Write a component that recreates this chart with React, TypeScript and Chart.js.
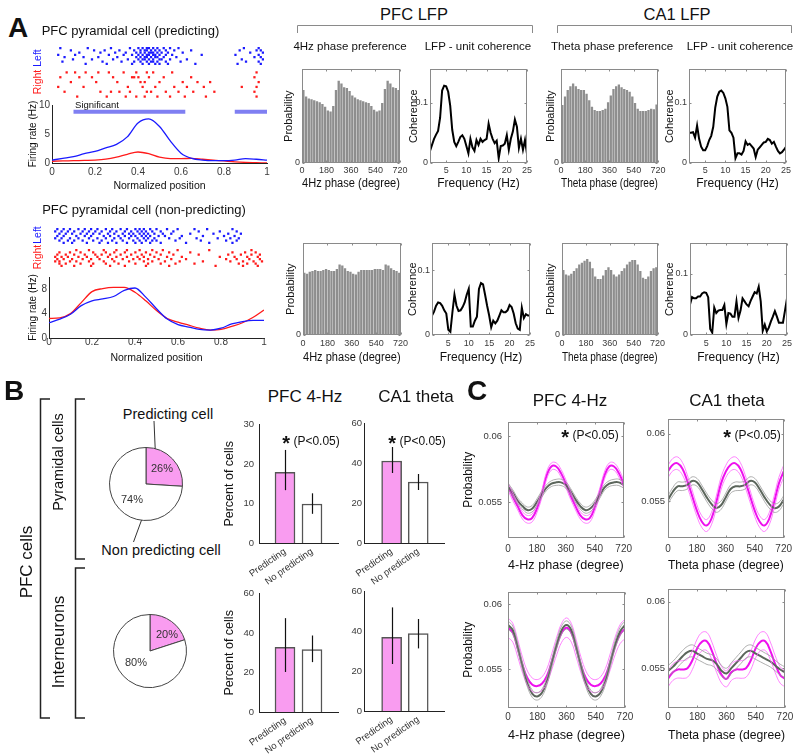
import React, { useEffect, useRef } from 'react';
import { Chart, registerables } from 'chart.js';

Chart.register(...registerables);

const FONT = '"Liberation Sans", Arial, Helvetica, sans-serif';
const TICK = '#3a3a3a';
const PINK = '#f99cf0';
const MAGENTA = '#ee11ee';
const MAGENTA_THIN = '#ff66ff';
const GREY = '#5c665c';
const GREY_THIN = '#9a9a9a';
const HIST = '#8e8e8e';
const BLUE = '#1a1aff';
const RED = '#ff1a1a';
const SIG = '#7f7ff2';

// ---------------- Panel A : firing rate ----------------
const positions = [0, 0.05, 0.1, 0.15, 0.2, 0.25, 0.3, 0.35, 0.4, 0.45, 0.5, 0.55, 0.6, 0.65, 0.7, 0.75, 0.8, 0.85, 0.9, 0.95, 1];
const posTicks = [0, 0.2, 0.4, 0.6, 0.8, 1];
const predLeftRate = [0.5, 0.8, 1.1, 1.6, 2.0, 2.6, 3.2, 4.5, 6.9, 7.6, 6.3, 3.8, 1.7, 0.8, 0.5, 0.4, 0.4, 0.5, 0.75, 0.65, 0.5];
const predRightRate = [0.3, 0.35, 0.4, 0.45, 0.5, 0.65, 1.0, 1.5, 1.9, 1.6, 1.0, 0.75, 0.75, 0.8, 0.65, 0.5, 0.35, 0.2, 0.1, 0.05, 0.0];
const nonpredLeftRate = [2.5, 3.1, 3.9, 5.3, 6.1, 6.4, 6.8, 7.8, 8.2, 6.7, 4.8, 3.1, 2.2, 1.8, 1.4, 1.3, 1.6, 2.3, 2.7, 2.9, 2.9];
const nonpredRightRate = [3.2, 3.3, 4.0, 5.8, 7.6, 8.1, 8.3, 8.3, 7.5, 6.1, 4.5, 3.2, 2.6, 2.1, 1.6, 1.3, 1.4, 1.9, 2.5, 3.4, 4.6];
const rateTicksPred = [0, 5, 10];
const rateTicksNon = [0, 4, 8];
const sigStart = [0.1, 0.85];
const sigEnd = [0.62, 1.0];
const SIG_LEVEL = 8.85;

// spike rasters (normalized positions per trial)
const predLeftTrials = [
  [0.03, 0.16, 0.27, 0.36, 0.40, 0.42, 0.44, 0.45, 0.47, 0.49, 0.52, 0.55, 0.59, 0.90, 0.97],
  [0.08, 0.19, 0.24, 0.31, 0.38, 0.41, 0.43, 0.44, 0.46, 0.48, 0.50, 0.53, 0.57, 0.65, 0.88, 0.96, 0.98],
  [0.12, 0.22, 0.29, 0.34, 0.39, 0.41, 0.43, 0.45, 0.46, 0.47, 0.49, 0.51, 0.54, 0.61, 0.93, 0.99],
  [0.02, 0.10, 0.26, 0.33, 0.37, 0.40, 0.42, 0.44, 0.45, 0.47, 0.48, 0.50, 0.53, 0.56, 0.70, 0.86, 0.97],
  [0.05, 0.14, 0.21, 0.30, 0.39, 0.41, 0.43, 0.44, 0.46, 0.48, 0.49, 0.52, 0.58, 0.95, 0.98],
  [0.09, 0.18, 0.28, 0.35, 0.40, 0.42, 0.43, 0.45, 0.47, 0.50, 0.51, 0.55, 0.63, 0.89, 0.99],
  [0.04, 0.23, 0.32, 0.38, 0.41, 0.44, 0.46, 0.47, 0.49, 0.53, 0.60, 0.91, 0.97],
  [0.15, 0.25, 0.37, 0.42, 0.45, 0.48, 0.50, 0.54, 0.67, 0.87, 0.98],
];
const predRightTrials = [
  [0.06, 0.10, 0.15, 0.21, 0.26, 0.33, 0.39, 0.44, 0.47, 0.56, 0.96],
  [0.03, 0.12, 0.18, 0.28, 0.37, 0.38, 0.40, 0.45, 0.52, 0.65, 0.95],
  [0.08, 0.20, 0.30, 0.41, 0.43, 0.50, 0.61, 0.68, 0.74, 0.97],
  [0.02, 0.14, 0.35, 0.42, 0.48, 0.57, 0.63, 0.71, 0.89, 0.96],
  [0.05, 0.22, 0.27, 0.31, 0.36, 0.44, 0.46, 0.53, 0.59, 0.66, 0.76, 0.95],
  [0.11, 0.25, 0.34, 0.39, 0.43, 0.49, 0.55, 0.62, 0.72, 0.96],
];
const nonLeftTrials = [
  [0.03, 0.06, 0.09, 0.13, 0.16, 0.19, 0.22, 0.26, 0.29, 0.33, 0.36, 0.40, 0.42, 0.44, 0.47, 0.50, 0.55, 0.60, 0.68, 0.74, 0.86],
  [0.02, 0.05, 0.08, 0.11, 0.15, 0.18, 0.21, 0.24, 0.28, 0.31, 0.35, 0.38, 0.41, 0.43, 0.45, 0.48, 0.52, 0.58, 0.70, 0.80, 0.88],
  [0.04, 0.07, 0.10, 0.14, 0.17, 0.20, 0.23, 0.27, 0.30, 0.34, 0.37, 0.39, 0.42, 0.44, 0.46, 0.49, 0.53, 0.57, 0.66, 0.77, 0.84, 0.90],
  [0.03, 0.06, 0.12, 0.16, 0.19, 0.25, 0.28, 0.32, 0.35, 0.38, 0.40, 0.43, 0.45, 0.47, 0.51, 0.54, 0.62, 0.72, 0.82, 0.87],
  [0.02, 0.05, 0.09, 0.13, 0.18, 0.22, 0.26, 0.30, 0.33, 0.37, 0.41, 0.44, 0.46, 0.49, 0.56, 0.61, 0.69, 0.79, 0.85, 0.89],
  [0.04, 0.08, 0.11, 0.15, 0.20, 0.24, 0.29, 0.34, 0.39, 0.42, 0.45, 0.48, 0.50, 0.59, 0.71, 0.83, 0.88],
  [0.06, 0.10, 0.17, 0.23, 0.27, 0.31, 0.36, 0.40, 0.43, 0.47, 0.52, 0.64, 0.75, 0.86],
];
const nonRightTrials = [
  [0.12, 0.18, 0.25, 0.31, 0.36, 0.42, 0.48, 0.53, 0.60, 0.75, 0.95],
  [0.04, 0.09, 0.14, 0.20, 0.26, 0.30, 0.35, 0.40, 0.45, 0.50, 0.56, 0.66, 0.86, 0.92, 0.97],
  [0.03, 0.07, 0.11, 0.16, 0.21, 0.24, 0.28, 0.33, 0.38, 0.43, 0.47, 0.52, 0.58, 0.70, 0.84, 0.90, 0.95, 0.99],
  [0.02, 0.05, 0.08, 0.13, 0.17, 0.22, 0.27, 0.31, 0.36, 0.41, 0.44, 0.49, 0.55, 0.62, 0.80, 0.87, 0.93, 0.98],
  [0.03, 0.06, 0.10, 0.15, 0.19, 0.23, 0.29, 0.34, 0.39, 0.42, 0.46, 0.51, 0.57, 0.64, 0.83, 0.88, 0.94, 0.99],
  [0.02, 0.04, 0.09, 0.12, 0.18, 0.25, 0.30, 0.37, 0.44, 0.48, 0.54, 0.61, 0.72, 0.85, 0.91, 0.96, 1.0],
  [0.04, 0.07, 0.14, 0.20, 0.26, 0.32, 0.40, 0.46, 0.52, 0.59, 0.68, 0.89, 0.93, 0.97],
  [0.05, 0.11, 0.19, 0.28, 0.35, 0.45, 0.56, 0.78, 0.91, 0.98],
];

// ---------------- Panel A : phase histograms (36 bins of 20 deg, 0-720) ----------------
const phaseTicks = [0, 180, 360, 540, 720];
const pfcPhasePred = [0.78, 0.71, 0.69, 0.68, 0.67, 0.66, 0.65, 0.63, 0.60, 0.56, 0.55, 0.61, 0.78, 0.88, 0.85, 0.81, 0.80, 0.77, 0.72, 0.70, 0.68, 0.67, 0.66, 0.65, 0.64, 0.61, 0.57, 0.55, 0.56, 0.64, 0.79, 0.88, 0.85, 0.81, 0.80, 0.78];
const ca1PhasePred = [0.62, 0.71, 0.78, 0.82, 0.85, 0.82, 0.79, 0.78, 0.78, 0.74, 0.67, 0.60, 0.565, 0.555, 0.555, 0.565, 0.58, 0.65, 0.72, 0.79, 0.82, 0.84, 0.81, 0.79, 0.78, 0.76, 0.71, 0.64, 0.58, 0.555, 0.555, 0.555, 0.565, 0.58, 0.575, 0.625];
const pfcPhaseNon = [0.68, 0.67, 0.69, 0.70, 0.71, 0.70, 0.70, 0.71, 0.72, 0.71, 0.70, 0.70, 0.72, 0.77, 0.76, 0.73, 0.70, 0.69, 0.67, 0.66, 0.69, 0.71, 0.71, 0.71, 0.71, 0.71, 0.72, 0.72, 0.72, 0.71, 0.77, 0.76, 0.73, 0.71, 0.70, 0.68];
const ca1PhaseNon = [0.71, 0.66, 0.65, 0.67, 0.70, 0.73, 0.77, 0.79, 0.81, 0.83, 0.80, 0.73, 0.64, 0.61, 0.61, 0.65, 0.71, 0.74, 0.71, 0.66, 0.64, 0.66, 0.70, 0.73, 0.77, 0.80, 0.82, 0.82, 0.77, 0.70, 0.625, 0.61, 0.64, 0.70, 0.73, 0.74];

// ---------------- Panel A : LFP-unit coherence ----------------
const freqs = [1, 1.5, 2, 2.5, 3, 3.5, 4, 4.5, 5, 5.5, 6, 6.5, 7, 7.5, 8, 8.5, 9, 9.5, 10, 10.5, 11, 11.5, 12, 12.5, 13, 13.5, 14, 14.5, 15, 15.5, 16, 16.5, 17, 17.5, 18, 18.5, 19, 19.5, 20, 20.5, 21, 21.5, 22, 22.5, 23, 23.5, 24, 24.5, 25];
const freqTicks = [5, 10, 15, 20, 25];
const cohTicks = [0, 0.1];
const pfcCohPred = [0.020, 0.030, 0.040, 0.047, 0.053, 0.075, 0.120, 0.128, 0.127, 0.118, 0.095, 0.055, 0.035, 0.028, 0.035, 0.043, 0.046, 0.040, 0.028, 0.016, 0.040, 0.026, 0.020, 0.038, 0.030, 0.040, 0.035, 0.038, 0.040, 0.065, 0.050, 0.040, 0.033, 0.037, 0.008, 0.028, 0.029, 0.032, 0.046, 0.022, 0.040, 0.052, 0.072, 0.060, 0.025, 0.040, 0.022, 0.038, 0.015];
const ca1CohPred = [0.050, 0.050, 0.051, 0.042, 0.062, 0.040, 0.027, 0.021, 0.021, 0.028, 0.038, 0.045, 0.060, 0.092, 0.110, 0.118, 0.120, 0.116, 0.107, 0.093, 0.054, 0.050, 0.042, 0.008, 0.016, 0.016, 0.014, 0.020, 0.036, 0.030, 0.032, 0.028, 0.024, 0.010, 0.022, 0.026, 0.030, 0.034, 0.035, 0.040, 0.038, 0.032, 0.035, 0.027, 0.020, 0.016, 0.018, 0.022, 0.027];
const pfcCohNon = [0.030, 0.036, 0.045, 0.050, 0.049, 0.045, 0.038, 0.033, 0.008, 0.005, 0.035, 0.062, 0.045, 0.037, 0.038, 0.043, 0.050, 0.062, 0.071, 0.013, 0.013, 0.022, 0.028, 0.071, 0.080, 0.078, 0.062, 0.045, 0.030, 0.012, 0.022, 0.018, 0.022, 0.030, 0.038, 0.035, 0.035, 0.038, 0.046, 0.043, 0.033, 0.018, 0.010, 0.008, 0.042, 0.026, 0.032, 0.030, 0.030];
const ca1CohNon = [0.050, 0.062, 0.060, 0.060, 0.063, 0.063, 0.068, 0.070, 0.069, 0.062, 0.010, 0.004, 0.045, 0.036, 0.040, 0.041, 0.041, 0.049, 0.018, 0.036, 0.035, 0.030, 0.030, 0.055, 0.028, 0.040, 0.060, 0.055, 0.050, 0.047, 0.056, 0.063, 0.070, 0.068, 0.079, 0.055, 0.007, 0.017, 0.006, 0.012, 0.022, 0.030, 0.039, 0.030, 0.020, 0.020, 0.020, 0.040, 0.060];

// ---------------- Panel B ----------------
const pieLabels = ['Predicting cell', 'Non predicting cell'];
const pyrPie = [26, 74];
const intPie = [20, 80];
const barLabels = ['Predicting', 'No predicting'];
const pfcPyrMean = [17.9, 9.9];
const pfcPyrLo = [13.4, 7.4];
const pfcPyrHi = [23.6, 12.6];
const ca1PyrMean = [41.0, 30.5];
const ca1PyrLo = [35.0, 26.5];
const ca1PyrHi = [48.0, 34.5];
const pfcIntMean = [32.8, 31.6];
const pfcIntLo = [20.3, 25.3];
const pfcIntHi = [47.6, 38.8];
const ca1IntMean = [36.8, 38.7];
const ca1IntLo = [23.5, 31.3];
const ca1IntHi = [51.8, 46.0];

// ---------------- Panel C ----------------
const phases = [0, 30, 60, 90, 120, 150, 180, 210, 240, 270, 300, 330, 360, 390, 420, 450, 480, 510, 540, 570, 600, 630, 660, 690, 720];
const pfcPyrPred = [0.0562, 0.0554, 0.0547, 0.0540, 0.0537, 0.0538, 0.0545, 0.0556, 0.0570, 0.0577, 0.0577, 0.0572, 0.0564, 0.0555, 0.0547, 0.0540, 0.0537, 0.0538, 0.0546, 0.0557, 0.0570, 0.0577, 0.0577, 0.0572, 0.0564];
const pfcPyrPredSem = [0.00030, 0.00029, 0.00028, 0.00028, 0.00029, 0.00030, 0.00030, 0.00029, 0.00028, 0.00027, 0.00028, 0.00029, 0.00030, 0.00029, 0.00028, 0.00028, 0.00029, 0.00030, 0.00030, 0.00029, 0.00028, 0.00027, 0.00028, 0.00029, 0.00030];
const pfcPyrNon = [0.0562, 0.0557, 0.0551, 0.0547, 0.0544, 0.0545, 0.0550, 0.0556, 0.0561, 0.0564, 0.0565, 0.0565, 0.0563, 0.0558, 0.0552, 0.0547, 0.0544, 0.0545, 0.0549, 0.0555, 0.0561, 0.0564, 0.0565, 0.0565, 0.0563];
const pfcPyrNonSem = [0.00024, 0.00023, 0.00022, 0.00022, 0.00023, 0.00024, 0.00024, 0.00023, 0.00022, 0.00022, 0.00023, 0.00024, 0.00024, 0.00023, 0.00022, 0.00022, 0.00023, 0.00024, 0.00024, 0.00023, 0.00022, 0.00022, 0.00023, 0.00024, 0.00024];
const ca1PyrPred = [0.0572, 0.0577, 0.0578, 0.0574, 0.0565, 0.0554, 0.0543, 0.0535, 0.0532, 0.0537, 0.0549, 0.0563, 0.0572, 0.0577, 0.0578, 0.0574, 0.0565, 0.0554, 0.0543, 0.0535, 0.0532, 0.0537, 0.0549, 0.0563, 0.0572];
const ca1PyrPredSem = [0.00045, 0.00046, 0.00047, 0.00046, 0.00045, 0.00044, 0.00043, 0.00043, 0.00044, 0.00045, 0.00046, 0.00046, 0.00045, 0.00046, 0.00047, 0.00046, 0.00045, 0.00044, 0.00043, 0.00043, 0.00044, 0.00045, 0.00046, 0.00046, 0.00045];
const ca1PyrNon = [0.0551, 0.0557, 0.0561, 0.0561, 0.0562, 0.0565, 0.0564, 0.0559, 0.0553, 0.0548, 0.0545, 0.0547, 0.0553, 0.0559, 0.0561, 0.0561, 0.0562, 0.0565, 0.0564, 0.0559, 0.0553, 0.0548, 0.0545, 0.0546, 0.0551];
const ca1PyrNonSem = [0.00030, 0.00031, 0.00032, 0.00031, 0.00030, 0.00030, 0.00029, 0.00029, 0.00030, 0.00031, 0.00032, 0.00031, 0.00030, 0.00031, 0.00032, 0.00031, 0.00030, 0.00030, 0.00029, 0.00029, 0.00030, 0.00031, 0.00032, 0.00031, 0.00030];
const pfcIntPred = [0.0582, 0.0578, 0.0566, 0.0553, 0.0543, 0.0538, 0.0537, 0.0539, 0.0545, 0.0556, 0.0568, 0.0578, 0.0582, 0.0578, 0.0566, 0.0553, 0.0543, 0.0538, 0.0537, 0.0539, 0.0545, 0.0556, 0.0568, 0.0577, 0.0581];
const pfcIntPredSem = [0.00075, 0.00072, 0.00066, 0.00060, 0.00055, 0.00052, 0.00050, 0.00052, 0.00056, 0.00062, 0.00068, 0.00073, 0.00075, 0.00072, 0.00066, 0.00060, 0.00055, 0.00052, 0.00050, 0.00052, 0.00056, 0.00062, 0.00068, 0.00073, 0.00075];
const pfcIntNon = [0.0584, 0.0580, 0.0567, 0.0552, 0.0539, 0.0531, 0.0529, 0.0532, 0.0541, 0.0555, 0.0569, 0.0580, 0.0584, 0.0580, 0.0567, 0.0552, 0.0539, 0.0531, 0.0529, 0.0532, 0.0541, 0.0555, 0.0569, 0.0579, 0.0584];
const pfcIntNonSem = [0.00032, 0.00031, 0.00030, 0.00029, 0.00028, 0.00028, 0.00028, 0.00028, 0.00029, 0.00030, 0.00031, 0.00032, 0.00032, 0.00031, 0.00030, 0.00029, 0.00028, 0.00028, 0.00028, 0.00028, 0.00029, 0.00030, 0.00031, 0.00032, 0.00032];
const ca1IntPred = [0.0542, 0.0547, 0.0549, 0.0549, 0.0550, 0.0556, 0.0565, 0.0570, 0.0570, 0.0563, 0.0553, 0.0545, 0.0542, 0.0547, 0.0549, 0.0549, 0.0550, 0.0556, 0.0565, 0.0570, 0.0570, 0.0563, 0.0553, 0.0545, 0.0542];
const ca1IntPredSem = [0.00060, 0.00062, 0.00064, 0.00066, 0.00068, 0.00070, 0.00070, 0.00069, 0.00068, 0.00066, 0.00064, 0.00062, 0.00060, 0.00062, 0.00064, 0.00066, 0.00068, 0.00070, 0.00070, 0.00069, 0.00068, 0.00066, 0.00064, 0.00062, 0.00060];
const ca1IntNon = [0.0548, 0.0551, 0.0555, 0.0559, 0.0562, 0.0563, 0.0561, 0.0559, 0.0557, 0.0556, 0.0553, 0.0548, 0.0546, 0.0550, 0.0554, 0.0558, 0.0562, 0.0563, 0.0561, 0.0559, 0.0557, 0.0555, 0.0552, 0.0549, 0.0547];
const ca1IntNonSem = [0.00040, 0.00041, 0.00042, 0.00043, 0.00044, 0.00045, 0.00044, 0.00043, 0.00042, 0.00041, 0.00040, 0.00040, 0.00040, 0.00041, 0.00042, 0.00043, 0.00044, 0.00045, 0.00044, 0.00043, 0.00042, 0.00041, 0.00040, 0.00040, 0.00040];
const probTicks = [0.055, 0.06];

// ---------------- plugins ----------------
const framePlugin = {
  id: 'frame',
  afterDatasetsDraw(chart: any, _a: any, opts: any) {
    if (!opts || !opts.color) return;
    const { ctx, chartArea: a } = chart;
    const L = Math.round(a.left) + 0.5, T = Math.round(a.top) + 0.5;
    const R = Math.round(a.right) - 0.5, B = Math.round(a.bottom) - 0.5;
    ctx.save();
    ctx.strokeStyle = opts.color;
    ctx.lineWidth = 1;
    ctx.strokeRect(L, T, R - L, B - T);
    const len = opts.len || 0;
    if (len) {
      const xs = chart.scales[opts.xId || 'x'];
      const ys = chart.scales['y'];
      ctx.beginPath();
      (xs.ticks || []).forEach((t: any) => {
        const px = Math.round(xs.getPixelForValue(t.value)) + 0.5;
        ctx.moveTo(px, B); ctx.lineTo(px, B - len);
        ctx.moveTo(px, T); ctx.lineTo(px, T + len);
      });
      (ys.ticks || []).forEach((t: any) => {
        const py = Math.round(ys.getPixelForValue(t.value)) + 0.5;
        ctx.moveTo(L, py); ctx.lineTo(L + len, py);
        ctx.moveTo(R, py); ctx.lineTo(R - len, py);
      });
      ctx.stroke();
    }
    ctx.restore();
  },
};
const errPlugin = {
  id: 'errbars',
  afterDatasetsDraw(chart: any) {
    const ds: any = chart.data.datasets[0];
    if (!ds || !ds.errLo) return;
    const meta = chart.getDatasetMeta(0);
    const ys = chart.scales.y;
    const ctx = chart.ctx;
    ctx.save();
    ctx.strokeStyle = '#111';
    ctx.lineWidth = 1.2;
    meta.data.forEach((el: any, i: number) => {
      const x = Math.round(el.x) + 0.5;
      ctx.beginPath();
      ctx.moveTo(x, ys.getPixelForValue(ds.errLo[i]));
      ctx.lineTo(x, ys.getPixelForValue(ds.errHi[i]));
      ctx.stroke();
    });
    ctx.restore();
  },
};
Chart.register(framePlugin as any, errPlugin as any);

// ---------------- helpers ----------------
type G = { x: number; y: number; w: number; h: number; l: number; t: number; r: number; b: number };

function Plot({ g, cfg }: { g: G; cfg: () => any }) {
  const ref = useRef<HTMLCanvasElement | null>(null);
  useEffect(() => {
    const c = new Chart(ref.current as HTMLCanvasElement, cfg());
    return () => c.destroy();
  }, []);
  const W = g.w + g.l + g.r;
  const H = g.h + g.t + g.b;
  return (
    <canvas ref={ref} width={W} height={H}
      style={{ position: 'absolute', left: g.x - g.l, top: g.y - g.t, width: W, height: H, display: 'block' }} />
  );
}

function base(g: G, axX: boolean, axY: boolean, plugins: any = {}) {
  return {
    responsive: false,
    maintainAspectRatio: false,
    animation: false,
    events: [],
    layout: { padding: { left: axY ? 0 : g.l, top: g.t, right: g.r, bottom: axX ? 0 : g.b } },
    plugins: { legend: { display: false }, tooltip: { enabled: false }, ...plugins },
  };
}

function axis(kind: 'x' | 'y', g: G, o: any) {
  const isX = kind === 'x';
  return {
    type: 'linear',
    axis: kind,
    position: isX ? 'bottom' : 'left',
    min: o.min,
    max: o.max,
    offset: false,
    afterBuildTicks: (s: any) => { s.ticks = o.ticks.map((v: number) => ({ value: v })); },
    afterFit: (s: any) => { if (isX) s.height = g.b; else s.width = g.l; },
    grid: { display: false, drawTicks: false, offset: false },
    border: { display: !!o.line, color: o.line || '#000', width: 1 },
    ticks: {
      autoSkip: false,
      maxRotation: o.rot || 0,
      minRotation: o.rot || 0,
      padding: o.pad === undefined ? 3 : o.pad,
      color: o.tickColor || TICK,
      font: { size: o.size || 10, family: FONT },
      callback: (v: number) => (o.fmt ? o.fmt(v) : String(v)),
    },
    title: { display: !!o.title, text: o.title || '', color: '#111', padding: 0, font: { size: o.tsize || 12, family: FONT } },
  };
}

function Txt({ x, y, s, c = '#111', rot = 0, w = 400, children }: any) {
  return (
    <div style={{
      position: 'absolute', left: x, top: y, transform: `translate(-50%, -50%) rotate(${rot}deg)`,
      fontSize: s, color: c, fontWeight: w, fontFamily: FONT, whiteSpace: 'nowrap', lineHeight: 1,
    }}>{children}</div>
  );
}

function Star({ x, y }: { x: number; y: number }) {
  return (
    <Txt x={x} y={y} s={12}>
      <span style={{ fontSize: 20, fontWeight: 700, position: 'relative', top: 5 }}>*</span>
      {' (P<0.05)'}
    </Txt>
  );
}

// ---------------- chart configs ----------------
function rasterCfg(g: G, trials: number[][], color: string) {
  return () => ({
    type: 'scatter',
    data: {
      datasets: [{
        data: trials.flatMap((row, i) => row.map((p) => ({ x: p, y: i }))),
        backgroundColor: color, borderWidth: 0, pointStyle: 'rect', pointRadius: 1.6, clip: false,
      }],
    },
    options: {
      ...base(g, false, false),
      scales: {
        x: { type: 'linear', display: false, min: 0, max: 1 },
        y: { type: 'linear', display: false, min: -0.5, max: trials.length - 0.5, reverse: true },
      },
    },
  });
}

function rateCfg(g: G, left: number[], right: number[], yTicks: number[], xPad: number, sig: boolean) {
  return () => {
    const ds: any[] = [
      { data: positions.map((p, i) => ({ x: p, y: left[i] })), borderColor: BLUE, borderWidth: 1.3, pointRadius: 0, cubicInterpolationMode: 'monotone' },
      { data: positions.map((p, i) => ({ x: p, y: right[i] })), borderColor: RED, borderWidth: 1.3, pointRadius: 0, cubicInterpolationMode: 'monotone' },
    ];
    if (sig) {
      sigStart.forEach((s, i) => ds.push({
        data: [{ x: s, y: SIG_LEVEL }, { x: sigEnd[i], y: SIG_LEVEL }],
        borderColor: SIG, borderWidth: 4, pointRadius: 0, borderCapStyle: 'butt',
      }));
    }
    return {
      type: 'line',
      data: { datasets: ds },
      options: {
        ...base(g, true, true),
        scales: {
          x: axis('x', g, { min: 0, max: 1, ticks: posTicks, line: '#222', size: 10, pad: xPad, title: 'Normalized position', tsize: 10.5 }),
          y: axis('y', g, { min: 0, max: 10, ticks: yTicks, line: '#222', size: 10, pad: 2, title: 'Firing rate (Hz)', tsize: 10 }),
        },
      },
    };
  };
}

function histCfg(g: G, values: number[], xTitle: string, pad: number) {
  return () => ({
    type: 'bar',
    data: {
      labels: values.map((_, i) => String(i)),
      datasets: [{ data: values, xAxisID: 'x', backgroundColor: HIST, borderWidth: 0, barPercentage: 0.86, categoryPercentage: 1 }],
    },
    options: {
      ...base(g, true, true, { frame: { color: '#8a8a8a', len: 2, xId: 'x2' } }),
      scales: {
        x: { type: 'category', display: false },
        x2: axis('x', g, { min: 0, max: 720, ticks: phaseTicks, size: 9, pad, title: xTitle, tsize: 12 }),
        y: axis('y', g, { min: 0, max: 1, ticks: [0], size: 9, pad: 2, title: 'Probability', tsize: 11 }),
      },
    },
  });
}

function cohCfg(g: G, values: number[], ymax: number, pad: number) {
  return () => ({
    type: 'line',
    data: {
      datasets: [{ data: freqs.map((f, i) => ({ x: f, y: values[i] })), borderColor: '#000', borderWidth: 2, pointRadius: 0, tension: 0 }],
    },
    options: {
      ...base(g, true, true, { frame: { color: '#8a8a8a', len: 2 } }),
      scales: {
        x: axis('x', g, { min: 1, max: 25, ticks: freqTicks, size: 9, pad, title: 'Frequency (Hz)', tsize: 12 }),
        y: axis('y', g, { min: 0, max: ymax, ticks: cohTicks, size: 9, pad: 2, title: 'Coherence', tsize: 11 }),
      },
    },
  });
}

function pieCfg(g: G, values: number[]) {
  return () => ({
    type: 'pie',
    data: {
      labels: pieLabels,
      datasets: [{ data: values, backgroundColor: [PINK, '#ffffff'], borderColor: '#444', borderWidth: 1, radius: 36.5 }],
    },
    options: base(g, false, false),
  });
}

function barCfg(g: G, mean: number[], lo: number[], hi: number[], xmin: number, xmax: number, ymax: number, yTicks: number[], yPad: number, yTitle: string) {
  return () => ({
    type: 'bar',
    data: {
      datasets: [{
        data: barLabels.map((_, i) => ({ x: i, y: mean[i] })),
        errLo: lo, errHi: hi,
        backgroundColor: [PINK, '#ffffff'], borderColor: '#555', borderWidth: 1.5, barThickness: 20,
      }],
    },
    options: {
      ...base(g, true, true),
      scales: {
        x: axis('x', g, { min: xmin, max: xmax, ticks: [0, 1], fmt: (v: number) => barLabels[v], size: 9.5, rot: 35, pad: 3, line: '#222', tickColor: '#333' }),
        y: axis('y', g, { min: 0, max: ymax, ticks: yTicks, line: '#222', size: 9.5, pad: yPad, title: yTitle, tsize: 12.5 }),
      },
    },
  });
}

function phaseCfg(g: G, pred: number[], predSem: number[], non: number[], nonSem: number[], ymin: number, ymax: number,
  xTitle: string, yTitle: string, yPad: number, xPad: number) {
  return () => {
    const line = (arr: number[], sem: number[], k: number, color: string, w: number) => ({
      data: phases.map((p, i) => ({ x: p, y: arr[i] + k * sem[i] })),
      borderColor: color, borderWidth: w, pointRadius: 0, tension: 0.4,
    });
    return {
      type: 'line',
      data: {
        datasets: [
          line(non, nonSem, 1, GREY_THIN, 0.8),
          line(non, nonSem, -1, GREY_THIN, 0.8),
          line(pred, predSem, 1, MAGENTA_THIN, 0.8),
          line(pred, predSem, -1, MAGENTA_THIN, 0.8),
          line(non, nonSem, 0, GREY, 2),
          line(pred, predSem, 0, MAGENTA, 2),
        ],
      },
      options: {
        ...base(g, true, true, { frame: { color: '#8a8a8a', len: 2 } }),
        scales: {
          x: axis('x', g, { min: 0, max: 720, ticks: phaseTicks, size: 10, pad: xPad, title: xTitle, tsize: 13.3 }),
          y: axis('y', g, { min: ymin, max: ymax, ticks: probTicks, size: 9.5, pad: yPad, title: yTitle, tsize: 12 }),
        },
      },
    };
  };
}

// ---------------- geometry ----------------
const gRate1: G = { x: 52, y: 105, w: 215, h: 58, l: 25, t: 8, r: 10, b: 29 };
const gRate2: G = { x: 49, y: 277, w: 215, h: 61, l: 22, t: 8, r: 10, b: 26 };
const gRasL1: G = { x: 52, y: 45, w: 215, h: 22, l: 2, t: 2, r: 2, b: 2 };
const gRasR1: G = { x: 52, y: 68, w: 215, h: 33, l: 2, t: 2, r: 2, b: 2 };
const gRasL2: G = { x: 49, y: 226, w: 215, h: 20, l: 2, t: 2, r: 2, b: 2 };
const gRasR2: G = { x: 49, y: 247, w: 215, h: 22, l: 2, t: 2, r: 2, b: 2 };
const gHistP1: G = { x: 302, y: 68, w: 98, h: 95, l: 20, t: 6, r: 10, b: 28 };
const gCohP1: G = { x: 430, y: 68, w: 97, h: 95, l: 23, t: 6, r: 10, b: 28 };
const gHistC1: G = { x: 561, y: 68, w: 97, h: 95, l: 17, t: 6, r: 10, b: 28 };
const gCohC1: G = { x: 689, y: 68, w: 97, h: 95, l: 26, t: 6, r: 10, b: 28 };
const gHistP2: G = { x: 303, y: 242, w: 98, h: 93, l: 19, t: 6, r: 10, b: 30 };
const gCohP2: G = { x: 432, y: 242, w: 98, h: 93, l: 26, t: 6, r: 10, b: 30 };
const gHistC2: G = { x: 562, y: 242, w: 96, h: 93, l: 18, t: 6, r: 10, b: 30 };
const gCohC2: G = { x: 690, y: 242, w: 97, h: 93, l: 27, t: 6, r: 10, b: 30 };
const gPie1: G = { x: 106, y: 444, w: 80, h: 80, l: 0, t: 0, r: 0, b: 0 };
const gPie2: G = { x: 110, y: 611, w: 80, h: 80, l: 0, t: 0, r: 0, b: 0 };
const gBarP1: G = { x: 259, y: 422, w: 79, h: 121, l: 37, t: 8, r: 4, b: 42 };
const gBarC1: G = { x: 364, y: 423, w: 80, h: 120, l: 24, t: 8, r: 4, b: 42 };
const gBarP2: G = { x: 259, y: 591, w: 79, h: 121, l: 37, t: 8, r: 4, b: 42 };
const gBarC2: G = { x: 364, y: 591, w: 80, h: 120, l: 24, t: 8, r: 4, b: 42 };
const gC1: G = { x: 508, y: 418, w: 119, h: 120, l: 47, t: 8, r: 10, b: 35 };
const gC2: G = { x: 668, y: 418, w: 119, h: 120, l: 40, t: 8, r: 10, b: 35 };
const gC3: G = { x: 508, y: 588, w: 119, h: 120, l: 47, t: 8, r: 10, b: 35 };
const gC4: G = { x: 668, y: 588, w: 119, h: 120, l: 40, t: 8, r: 10, b: 35 };

export default function App() {
  return (
    <div style={{ position: 'absolute', left: 0, top: 0, width: 800, height: 754, background: '#fff', overflow: 'hidden', fontFamily: FONT }}>
      <svg width={800} height={754} style={{ position: 'absolute', left: 0, top: 0 }}>
        <g fill="none" stroke="#8a8a8a" strokeWidth={1}>
          <path d="M297.5 33 V25.5 H532.5 V33" />
          <path d="M557.5 33 V25.5 H791.5 V33" />
        </g>
        <g fill="none" stroke="#222" strokeWidth={1.5}>
          <path d="M50 399 H40.5 V718 H50" />
          <path d="M85 399 H75.5 V559 H85" />
          <path d="M85 568 H75.5 V718 H85" />
        </g>
        <g stroke="#333" strokeWidth={1}>
          <line x1={154} y1={421} x2={155.5} y2={456} />
          <line x1={133.5} y1={542} x2={144.5} y2={512} />
        </g>
      </svg>

      {/* Panel A */}
      <Plot g={gRasL1} cfg={rasterCfg(gRasL1, predLeftTrials, BLUE)} />
      <Plot g={gRasR1} cfg={rasterCfg(gRasR1, predRightTrials, RED)} />
      <Plot g={gRate1} cfg={rateCfg(gRate1, predLeftRate, predRightRate, rateTicksPred, 3.5, true)} />
      <Plot g={gRasL2} cfg={rasterCfg(gRasL2, nonLeftTrials, BLUE)} />
      <Plot g={gRasR2} cfg={rasterCfg(gRasR2, nonRightTrials, RED)} />
      <Plot g={gRate2} cfg={rateCfg(gRate2, nonpredLeftRate, nonpredRightRate, rateTicksNon, -1.5, false)} />

      <Plot g={gHistP1} cfg={histCfg(gHistP1, pfcPhasePred, '4Hz phase (degree)', 2.6)} />
      <Plot g={gCohP1} cfg={cohCfg(gCohP1, pfcCohPred, 0.155, 2.6)} />
      <Plot g={gHistC1} cfg={histCfg(gHistC1, ca1PhasePred, 'Theta phase (degree)', 2.6)} />
      <Plot g={gCohC1} cfg={cohCfg(gCohC1, ca1CohPred, 0.155, 2.6)} />
      <Plot g={gHistP2} cfg={histCfg(gHistP2, pfcPhaseNon, '4Hz phase (degree)', 2.9)} />
      <Plot g={gCohP2} cfg={cohCfg(gCohP2, pfcCohNon, 0.141, 2.9)} />
      <Plot g={gHistC2} cfg={histCfg(gHistC2, ca1PhaseNon, 'Theta phase (degree)', 2.9)} />
      <Plot g={gCohC2} cfg={cohCfg(gCohC2, ca1CohNon, 0.15, 2.9)} />

      {/* Panel B */}
      <Plot g={gPie1} cfg={pieCfg(gPie1, pyrPie)} />
      <Plot g={gPie2} cfg={pieCfg(gPie2, intPie)} />
      <Plot g={gBarP1} cfg={barCfg(gBarP1, pfcPyrMean, pfcPyrLo, pfcPyrHi, -0.963, 1.963, 30, [0, 10, 20, 30], 5, 'Percent of cells')} />
      <Plot g={gBarC1} cfg={barCfg(gBarC1, ca1PyrMean, ca1PyrLo, ca1PyrHi, -1.04, 1.97, 60, [0, 20, 40, 60], 2, '')} />
      <Plot g={gBarP2} cfg={barCfg(gBarP2, pfcIntMean, pfcIntLo, pfcIntHi, -0.963, 1.963, 60, [0, 20, 40, 60], 5, 'Percent of cells')} />
      <Plot g={gBarC2} cfg={barCfg(gBarC2, ca1IntMean, ca1IntLo, ca1IntHi, -1.04, 1.97, 60, [0, 20, 40, 60], 2, '')} />

      {/* Panel C */}
      <Plot g={gC1} cfg={phaseCfg(gC1, pfcPyrPred, pfcPyrPredSem, pfcPyrNon, pfcPyrNonSem, 0.05228, 0.0611, '4-Hz phase (degree)', 'Probability', 6, 5)} />
      <Plot g={gC2} cfg={phaseCfg(gC2, ca1PyrPred, ca1PyrPredSem, ca1PyrNon, ca1PyrNonSem, 0.05228, 0.0611, 'Theta phase (degree)', '', 3, 5)} />
      <Plot g={gC3} cfg={phaseCfg(gC3, pfcIntPred, pfcIntPredSem, pfcIntNon, pfcIntNonSem, 0.05201, 0.06097, '4-Hz phase (degree)', 'Probability', 6, 3.7)} />
      <Plot g={gC4} cfg={phaseCfg(gC4, ca1IntPred, ca1IntPredSem, ca1IntNon, ca1IntNonSem, 0.05201, 0.06097, 'Theta phase (degree)', '', 3, 3.7)} />

      {/* Text */}
      <Txt x={18} y={28} s={28} w={700}>A</Txt>
      <Txt x={130.5} y={30} s={13}>PFC pyramidal cell (predicting)</Txt>
      <Txt x={37} y={57.5} s={10.5} c={BLUE} rot={-90}>Left</Txt>
      <Txt x={37} y={82} s={10.5} c={RED} rot={-90}>Right</Txt>
      <Txt x={97} y={105} s={9.5}>Significant</Txt>
      <Txt x={144} y={209} s={13}>PFC pyramidal cell (non-predicting)</Txt>
      <Txt x={37} y={234.5} s={10.5} c={BLUE} rot={-90}>Left</Txt>
      <Txt x={37} y={257} s={10.5} c={RED} rot={-90}>Right</Txt>

      <Txt x={414} y={13.5} s={16.5}>PFC LFP</Txt>
      <Txt x={677} y={13.5} s={16.5}>CA1 LFP</Txt>
      <Txt x={350} y={47} s={11.5}>4Hz phase preference</Txt>
      <Txt x={478} y={47} s={11.5}>LFP - unit coherence</Txt>
      <Txt x={612} y={47} s={11.5}>Theta phase preference</Txt>
      <Txt x={740} y={47} s={11.5}>LFP - unit coherence</Txt>

      <Txt x={14} y={391} s={28} w={700}>B</Txt>
      <Txt x={26} y={562} s={17} rot={-90}>PFC cells</Txt>
      <Txt x={58} y={462} s={14.5} rot={-90}>Pyramidal cells</Txt>
      <Txt x={58} y={642} s={16.5} rot={-90}>Interneurons</Txt>
      <Txt x={168} y={414} s={14.5}>Predicting cell</Txt>
      <Txt x={161} y={550} s={14.5}>Non predicting cell</Txt>
      <Txt x={162} y={468} s={11} c="#333">26%</Txt>
      <Txt x={132} y={499} s={11} c="#333">74%</Txt>
      <Txt x={167} y={634} s={11} c="#333">20%</Txt>
      <Txt x={136} y={662} s={11} c="#333">80%</Txt>
      <Txt x={305} y={396} s={17}>PFC 4-Hz</Txt>
      <Txt x={416} y={396} s={17}>CA1 theta</Txt>
      <Star x={311} y={438} />
      <Star x={417} y={438} />

      <Txt x={477} y={391} s={28} w={700}>C</Txt>
      <Txt x={570} y={400} s={17}>PFC 4-Hz</Txt>
      <Txt x={727} y={400} s={17}>CA1 theta</Txt>
      <Star x={590} y={432} />
      <Star x={752} y={432} />
    </div>
  );
}
